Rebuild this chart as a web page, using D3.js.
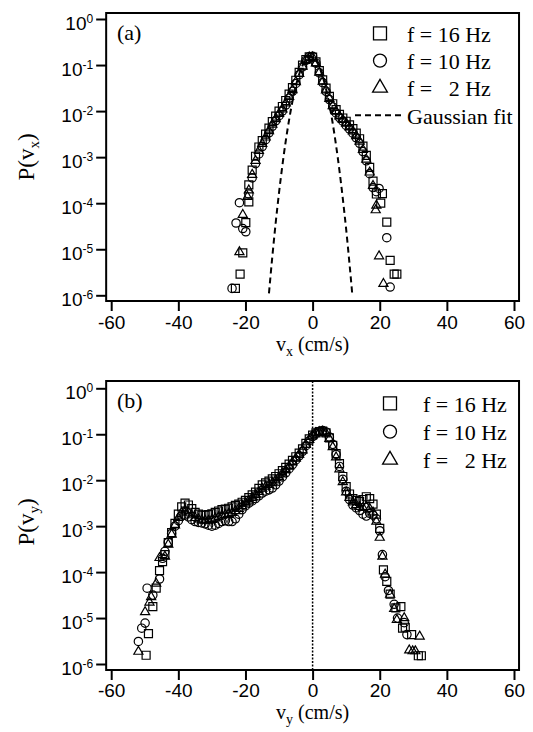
<!DOCTYPE html>
<html>
<head>
<meta charset="utf-8">
<script src="https://cdn.jsdelivr.net/npm/d3@7"></script>
<style>
  body { margin: 0; background: #fff; }
  svg { display: block; background: #fff; }
  .sans { font-family: "Liberation Sans", Arial, Helvetica, sans-serif; }
  .serif { font-family: "Liberation Serif", "Times New Roman", Times, serif; }
</style>
</head>
<body>
<svg width="533" height="732"></svg>
<script>
//data: every value below is log10 of the probability density
const xTicks = [-60, -40, -20, 0, 20, 40, 60];
const yExponents = [0, -1, -2, -3, -4, -5, -6];
const seriesNames = ["f = 16 Hz", "f = 10 Hz", "f = \u20072 Hz"];

//panel (a), P(v_x)
const vxBins = [-19, -18, -17, -16, -15, -14, -13, -12, -11, -10, -9, -8, -7, -6, -5, -4, -3, -2, -1,
  0, 1, 2, 3, 4, 5, 6, 7, 8, 9, 10, 11, 12, 13, 14, 15, 16, 17, 18, 19];
const vx16 = [-3.60, -3.28, -2.98, -2.78, -2.64, -2.50, -2.37, -2.23, -2.11, -2.00, -1.90, -1.77, -1.63, -1.49, -1.33, -1.16, -1.00, -0.88, -0.82,
  -0.83, -0.93, -1.12, -1.32, -1.50, -1.68, -1.84, -1.97, -2.07, -2.15, -2.22, -2.30, -2.38, -2.48, -2.60, -2.76, -2.96, -3.22, -3.52, -3.80];
const vx10 = [-3.80, -3.45, -3.14, -2.93, -2.77, -2.62, -2.47, -2.33, -2.21, -2.10, -2.00, -1.87, -1.72, -1.57, -1.40, -1.21, -1.04, -0.90, -0.82,
  -0.81, -0.96, -1.17, -1.38, -1.57, -1.75, -1.91, -2.04, -2.14, -2.22, -2.31, -2.39, -2.48, -2.58, -2.70, -2.88, -3.08, -3.36, -3.66, -3.75];
const vx2 = [-3.72, -3.38, -3.08, -2.86, -2.71, -2.57, -2.43, -2.29, -2.17, -2.06, -1.96, -1.83, -1.69, -1.54, -1.37, -1.19, -1.03, -0.89, -0.83,
  -0.83, -0.96, -1.16, -1.36, -1.55, -1.73, -1.89, -2.01, -2.11, -2.19, -2.27, -2.35, -2.44, -2.54, -2.66, -2.84, -3.05, -3.33, -3.62, -4.05];
//sparse points in the tails [v, log10 P]
const vx16Tails = [[-19.0, -3.97], [-19.9, -4.42], [-20.8, -5.08], [-21.6, -5.54], [-23.0, -5.85],
  [20.8, -3.79], [20.3, -4.00], [22.1, -4.41], [23.1, -5.24], [24.3, -5.54], [25.1, -5.54]];
const vx10Tails = [[-21.8, -3.99], [-22.8, -4.43], [-20.8, -4.55], [-19.9, -4.62], [-24.0, -5.85],
  [19.8, -3.68], [22.1, -4.75], [23.1, -5.82]];
const vx2Tails = [[-19.4, -3.86], [-20.8, -4.25], [-21.8, -5.06],
  [18.8, -4.15], [19.8, -5.15], [21.1, -5.75]];
//gaussian fit (dashed)
const gaussV = [-13, -12, -11, -10, -9, -8, -7, -6, -5, -4, -3, -2, -1, 0, 1, 2, 3, 4, 5, 6, 7, 8, 9, 10, 11, 11.8];
const gaussLogP = [-5.96, -5.16, -4.43, -3.77, -3.18, -2.65, -2.19, -1.79, -1.46, -1.20, -1.01, -0.88, -0.82,
  -0.83, -0.90, -1.04, -1.25, -1.52, -1.86, -2.27, -2.75, -3.29, -3.90, -4.57, -5.32, -5.96];

//panel (b), P(v_y)
const vyBins = [-44, -43, -42, -41, -40, -39, -38, -37, -36, -35, -34, -33, -32, -31, -30, -29, -28, -27, -26, -25,
  -24, -23, -22, -21, -20, -19, -18, -17, -16, -15, -14, -13, -12, -11, -10, -9, -8, -7, -6, -5,
  -4, -3, -2, -1, 0, 1, 2, 3, 4, 5, 6, 7, 8, 9, 10, 11, 12, 13, 14, 15, 16, 17, 18, 19, 20];
const vy16 = [-3.62, -3.36, -3.14, -2.94, -2.74, -2.58, -2.50, -2.54, -2.62, -2.70, -2.74, -2.76, -2.76, -2.75, -2.73, -2.70, -2.67, -2.64, -2.63, -2.61,
  -2.58, -2.55, -2.52, -2.48, -2.44, -2.38, -2.32, -2.26, -2.18, -2.10, -2.06, -2.02, -1.97, -1.92, -1.86, -1.79, -1.72, -1.65, -1.57, -1.49,
  -1.41, -1.32, -1.20, -1.10, -1.02, -0.97, -0.94, -0.93, -0.97, -1.08, -1.24, -1.42, -1.64, -1.92, -2.14, -2.30, -2.40, -2.44, -2.46, -2.42,
  -2.36, -2.40, -2.52, -2.74, -3.05];
const vy10 = [-3.55, -3.35, -3.16, -3.00, -2.88, -2.78, -2.76, -2.80, -2.86, -2.90, -2.92, -2.93, -2.95, -2.98, -3.00, -2.98, -2.94, -2.90, -2.88, -2.90,
  -2.90, -2.84, -2.74, -2.64, -2.56, -2.50, -2.45, -2.40, -2.34, -2.28, -2.24, -2.21, -2.17, -2.10, -2.02, -1.93, -1.84, -1.75, -1.66, -1.56,
  -1.47, -1.37, -1.25, -1.14, -1.05, -0.98, -0.94, -0.92, -0.95, -1.06, -1.22, -1.44, -1.70, -1.98, -2.24, -2.42, -2.54, -2.60, -2.66, -2.74,
  -2.78, -2.72, -2.76, -2.84, -3.10];
const vy2 = [-3.66, -3.40, -3.18, -2.98, -2.82, -2.70, -2.66, -2.70, -2.76, -2.82, -2.85, -2.87, -2.88, -2.88, -2.86, -2.83, -2.80, -2.77, -2.75, -2.73,
  -2.71, -2.67, -2.62, -2.56, -2.50, -2.44, -2.38, -2.32, -2.25, -2.18, -2.14, -2.10, -2.06, -2.00, -1.93, -1.85, -1.78, -1.70, -1.61, -1.53,
  -1.44, -1.35, -1.23, -1.12, -1.03, -0.97, -0.95, -0.94, -0.98, -1.10, -1.28, -1.50, -1.76, -2.04, -2.26, -2.38, -2.48, -2.54, -2.58, -2.60,
  -2.58, -2.62, -2.70, -2.90, -3.25];
const vy16Tails = [[-49.6, -5.81], [-48.9, -5.34], [-47.6, -4.75], [-46.6, -4.35], [-45.6, -3.97], [-44.7, -3.77],
  [21.1, -3.95], [22.1, -4.20], [23.1, -4.48], [24.8, -4.78], [26.3, -4.75], [26.8, -5.22], [27.6, -5.20],
  [29.5, -5.36], [31.5, -5.82], [32.4, -5.82]];
const vy10Tails = [[-51.9, -5.51], [-50.9, -5.22], [-49.9, -5.11], [-49.3, -4.35], [-47.6, -4.50], [-45.6, -4.15], [-44.7, -3.70],
  [20.8, -3.62], [21.6, -4.10], [22.6, -4.40], [24.3, -4.70], [25.3, -5.00], [27.3, -5.10], [28.1, -5.36]];
const vy2Tails = [[-51.9, -5.73], [-49.9, -4.87], [-48.6, -4.66], [-48.1, -4.54], [-46.6, -4.25], [-45.6, -3.69],
  [20.8, -3.66], [21.6, -4.05], [23.1, -4.49], [24.3, -4.80], [25.1, -5.04], [27.3, -5.00], [28.8, -5.70],
  [29.8, -5.72], [30.6, -5.72], [31.9, -5.40]];


const svg = d3.select("svg");

const xScale = d3.scaleLinear()
  .domain([-60, 60])
  .range([111.2, 514]);

const frameLeft = xScale(-61.5);
const frameRight = xScale(61.5);

const symbolTypes = [d3.symbolSquare, d3.symbolCircle, d3.symbolTriangle];
const markerSize = [64, 55, 36];
const legendSize = [169, 133, 95];

function pairs(bins, vals) {
  return bins.map((v, i) => [v, vals[i]]);
}

function drawPanel(p) {
  var yScale = d3.scaleLog()
    .domain([1e-6, 1])
    .range([p.y6, p.y0]);

  var g = svg.append("g");

  //y axis ticks + 10^n labels
  var yAxis = g.append("g")
    .attr("transform", `translate(${frameLeft}, 0)`)
    .call(d3.axisLeft(yScale).tickValues(yExponents.map(e => Math.pow(10, e))).tickSize(10).tickSizeOuter(0).tickFormat(""));
  yAxis.select(".domain").remove();
  yAxis.selectAll("line").attr("stroke-width", 2);
  yAxis.selectAll(".tick text")
    .attr("class", "sans")
    .attr("font-size", 19)
    .attr("x", -13)
    .attr("dy", 10)
    .attr("text-anchor", "end")
    .attr("fill", "#000")
    .each(function(d) {
      var t = d3.select(this);
      t.append("tspan").text("10");
      t.append("tspan").attr("font-size", 12).attr("dy", -7).text(Math.round(Math.log10(d)));
    });

  //x axis
  var xAxis = g.append("g")
    .attr("transform", `translate(0, ${p.bottom})`)
    .call(d3.axisBottom(xScale).tickValues(xTicks).tickSize(10).tickSizeOuter(0).tickFormat(d => String(d)));
  xAxis.select(".domain").remove();
  xAxis.selectAll("line").attr("stroke-width", 2);
  xAxis.selectAll("text")
    .attr("class", "sans")
    .attr("font-size", 19)
    .attr("fill", "#000")
    .attr("y", p.tickBase)
    .attr("dy", 0);

  //frame
  g.append("rect")
    .attr("x", frameLeft)
    .attr("y", p.top)
    .attr("width", frameRight - frameLeft)
    .attr("height", p.bottom - p.top)
    .attr("fill", "none")
    .attr("stroke", "#000")
    .attr("stroke-width", 2);

  //zero line in (b)
  if (p.zeroLine) {
    g.append("line")
      .attr("x1", xScale(0)).attr("x2", xScale(0))
      .attr("y1", p.top).attr("y2", p.bottom)
      .attr("stroke", "#000")
      .attr("stroke-width", 1.5)
      .attr("stroke-dasharray", "2,1.5");
  }

  //gaussian fit
  if (p.fit) {
    var line = d3.line()
      .x(d => xScale(d[0]))
      .y(d => yScale(Math.pow(10, d[1])))
      .curve(d3.curveMonotoneX);
    g.append("path")
      .datum(p.fit)
      .attr("d", line)
      .attr("fill", "none")
      .attr("stroke", "#000")
      .attr("stroke-width", 2)
      .attr("stroke-dasharray", "6,4");
  }

  //markers
  p.series.forEach((s, i) => {
    g.append("g").selectAll("path")
      .data(s)
      .enter()
      .append("path")
        .attr("d", d3.symbol().type(symbolTypes[i]).size(markerSize[i]))
        .attr("transform", d => `translate(${xScale(d[0])}, ${yScale(Math.pow(10, d[1]))})`)
        .attr("fill", "none")
        .attr("stroke", "#000")
        .attr("stroke-width", 1.2);
  });

  //legend
  seriesNames.forEach((name, i) => {
    var cy = p.legendY + i * p.legendStep;
    g.append("path")
      .attr("d", d3.symbol().type(symbolTypes[i]).size(legendSize[i]))
      .attr("transform", `translate(${p.legendX}, ${cy})`)
      .attr("fill", "none")
      .attr("stroke", "#000")
      .attr("stroke-width", 1.3);
    g.append("text")
      .attr("class", "serif")
      .attr("font-size", 22)
      .attr("x", p.legendTextX)
      .attr("y", cy + 8.4)
      .text(name);
  });
  if (p.fit) {
    var cy = p.legendY + 3 * p.legendStep;
    g.append("line")
      .attr("x1", p.legendX - 25).attr("x2", p.legendTextX - 4)
      .attr("y1", cy).attr("y2", cy)
      .attr("stroke", "#000")
      .attr("stroke-width", 2)
      .attr("stroke-dasharray", "6,4");
    g.append("text")
      .attr("class", "serif")
      .attr("font-size", 22)
      .attr("x", p.legendTextX)
      .attr("y", cy + 8.4)
      .text("Gaussian fit");
  }

  //panel label
  g.append("text")
    .attr("class", "serif")
    .attr("font-size", 22)
    .attr("x", 117)
    .attr("y", p.top + 27)
    .text(p.label);

  //axis titles
  var yt = g.append("text")
    .attr("class", "serif")
    .attr("font-size", 23)
    .attr("text-anchor", "middle")
    .attr("transform", `translate(34, ${p.titleMid}) rotate(-90)`);
  yt.append("tspan").text("P(v");
  yt.append("tspan").attr("font-size", 15).attr("dy", 5).text(p.sub);
  yt.append("tspan").attr("dy", -5).text(")");

  var xt = g.append("text")
    .attr("class", "serif")
    .attr("font-size", 20)
    .attr("text-anchor", "middle")
    .attr("x", xScale(0))
    .attr("y", p.titleBase);
  xt.append("tspan").text("v");
  xt.append("tspan").attr("font-size", 14).attr("dy", 5).text(p.sub);
  xt.append("tspan").attr("dy", -5).text(" (cm/s)");
}

drawPanel({
  label: "(a)", sub: "x",
  top: 13, bottom: 301, y0: 19, y6: 295.3,
  tickBase: 28, titleBase: 351, titleMid: 157,
  legendX: 380, legendTextX: 407, legendY: 33.3, legendStep: 27.3,
  series: [
    pairs(vxBins, vx16).concat(vx16Tails),
    pairs(vxBins, vx10).concat(vx10Tails),
    pairs(vxBins, vx2).concat(vx2Tails)
  ],
  fit: pairs(gaussV, gaussLogP)
});

drawPanel({
  label: "(b)", sub: "y",
  top: 381, bottom: 670, y0: 388.3, y6: 664,
  tickBase: 27, titleBase: 719, titleMid: 522,
  legendX: 390, legendTextX: 423, legendY: 403.3, legendStep: 28.3,
  zeroLine: true,
  series: [
    pairs(vyBins, vy16).concat(vy16Tails),
    pairs(vyBins, vy10).concat(vy10Tails),
    pairs(vyBins, vy2).concat(vy2Tails)
  ]
});
</script>
</body>
</html>
